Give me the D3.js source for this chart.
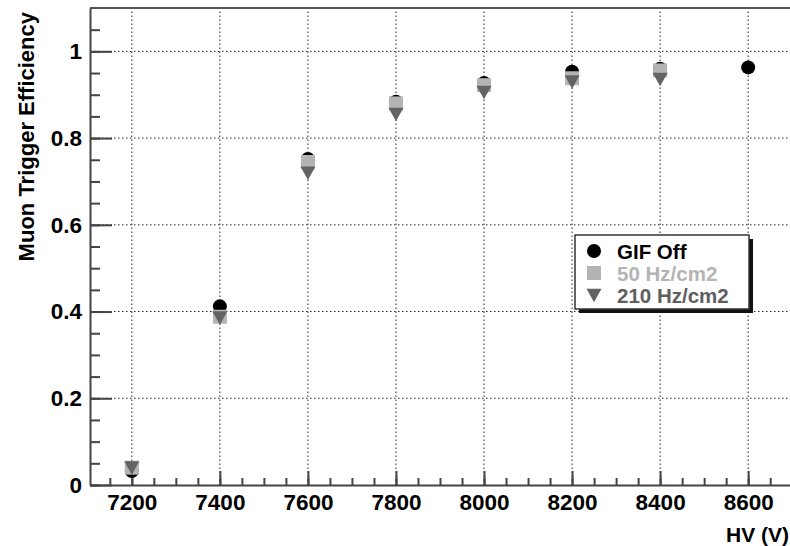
<!DOCTYPE html>
<html>
<head>
<meta charset="utf-8">
<script src="https://cdn.jsdelivr.net/npm/d3@7"></script>
<style>
  body { margin: 0; background: #fff; }
  svg text { font-family: "Liberation Sans", Arial, sans-serif; font-weight: bold; }
</style>
</head>
<body>
<div id="chart"></div>
<script>
// data
const hv = [7200, 7400, 7600, 7800, 8000, 8200, 8400, 8600];
const gifOff = [0.032, 0.412, 0.752, 0.884, 0.927, 0.953, 0.960, 0.963];
const hz50 = [0.040, 0.388, 0.745, 0.880, 0.922, 0.938, 0.956];
const hz210 = [0.040, 0.386, 0.720, 0.855, 0.906, 0.930, 0.936];
const seriesNames = ["GIF Off", "50 Hz/cm2", "210 Hz/cm2"];
const xTicks = [7200, 7400, 7600, 7800, 8000, 8200, 8400, 8600];
const yTicks = [0, 0.2, 0.4, 0.6, 0.8, 1];

const W = 790, H = 546;
const svg = d3.select("#chart").append("svg")
    .attr("width", W)
    .attr("height", H);

const x = d3.scaleLinear().domain([7105, 8695]).range([90, 790]);
const y = d3.scaleLinear().domain([0, 1.1]).range([485, 8]);

// grid (dotted)
svg.append("g").selectAll("line")
    .data(xTicks)
    .join("line")
    .attr("x1", d => x(d)).attr("x2", d => x(d))
    .attr("y1", y(0)).attr("y2", y(1.1))
    .attr("stroke", "#222")
    .attr("stroke-width", 1)
    .attr("stroke-dasharray", "1.5,2.5");

svg.append("g").selectAll("line")
    .data(yTicks.filter(d => d > 0))
    .join("line")
    .attr("x1", x(7105)).attr("x2", W)
    .attr("y1", d => y(d)).attr("y2", d => y(d))
    .attr("stroke", "#222")
    .attr("stroke-width", 1)
    .attr("stroke-dasharray", "1.5,2.5");

// frame top
svg.append("line")
    .attr("x1", 90).attr("x2", W)
    .attr("y1", y(1.1)).attr("y2", y(1.1))
    .attr("stroke", "#555").attr("stroke-width", 2);

// minor ticks
svg.append("g")
    .attr("transform", `translate(90,0)`)
    .call(d3.axisLeft(y).tickValues(d3.range(0, 1.1, 0.05)).tickSize(-10).tickSizeOuter(0).tickFormat(""))
    .call(g => g.select(".domain").remove())
    .selectAll("line").attr("stroke", "#444").attr("stroke-width", 2);

svg.append("g")
    .attr("transform", `translate(0,485)`)
    .call(d3.axisBottom(x).tickValues(d3.range(7150, 8700, 50)).tickSize(-7).tickSizeOuter(0).tickFormat(""))
    .call(g => g.select(".domain").remove())
    .selectAll("line").attr("stroke", "#444").attr("stroke-width", 2);

// major axes
const yAxis = svg.append("g")
    .attr("transform", `translate(90,0)`)
    .call(d3.axisLeft(y).tickValues(yTicks).tickSize(-22).tickSizeOuter(0).tickPadding(8)
        .tickFormat(d => d === 0 || d === 1 ? d3.format("d")(d) : d3.format(".1f")(d)));
yAxis.select(".domain").attr("stroke", "#444").attr("stroke-width", 2);
yAxis.selectAll("line").attr("stroke", "#444").attr("stroke-width", 2);
yAxis.selectAll("text").style("font-size", "22.5px").attr("fill", "#000");

const xAxis = svg.append("g")
    .attr("transform", `translate(0,485)`)
    .call(d3.axisBottom(x).tickValues(xTicks).tickSize(-14).tickSizeOuter(0).tickPadding(9).tickFormat(d3.format("d")));
xAxis.select(".domain").attr("stroke", "#444").attr("stroke-width", 2);
xAxis.selectAll("line").attr("stroke", "#444").attr("stroke-width", 2);
xAxis.selectAll("text").style("font-size", "22.5px").attr("fill", "#000");

// axis titles
svg.append("text")
    .attr("text-anchor", "end")
    .attr("x", 789)
    .attr("y", 542)
    .style("font-size", "21px")
    .text("HV (V)");

svg.append("text")
    .attr("text-anchor", "end")
    .attr("transform", `translate(34,12) rotate(-90)`)
    .style("font-size", "22px")
    .text("Muon Trigger Efficiency");

// markers: circles first, then squares, then triangles
const triangle = s => `M${-s},${-s * 0.85}L${s},${-s * 0.85}L0,${s * 0.95}Z`;

svg.append("g").selectAll("circle")
    .data(gifOff)
    .join("circle")
    .attr("cx", (d, i) => x(hv[i]))
    .attr("cy", d => y(d))
    .attr("r", 7)
    .attr("fill", "#000");

svg.append("g").selectAll("rect")
    .data(hz50)
    .join("rect")
    .attr("x", (d, i) => x(hv[i]) - 7)
    .attr("y", d => y(d) - 7)
    .attr("width", 14)
    .attr("height", 14)
    .attr("fill", "#b4b4b4");

svg.append("g").selectAll("path")
    .data(hz210)
    .join("path")
    .attr("transform", (d, i) => `translate(${x(hv[i])},${y(d)})`)
    .attr("d", triangle(7.5))
    .attr("fill", "#636363");

// legend
const lg = svg.append("g").attr("transform", "translate(575,235)");
lg.append("rect")
    .attr("x", 4).attr("y", 4)
    .attr("width", 174).attr("height", 74)
    .attr("fill", "#111");
lg.append("rect")
    .attr("width", 174).attr("height", 74)
    .attr("fill", "#fff")
    .attr("stroke", "#333")
    .attr("stroke-width", 1.5);

const legendColors = ["#000", "#b4b4b4", "#5e5e5e"];
const rows = lg.selectAll(".row")
    .data(seriesNames)
    .join("g")
    .attr("class", "row")
    .attr("transform", (d, i) => `translate(0,${16 + i * 22})`);

rows.each(function (d, i) {
    const g = d3.select(this);
    if (i === 0) g.append("circle").attr("cx", 19).attr("cy", 0).attr("r", 7).attr("fill", "#000");
    else if (i === 1) g.append("rect").attr("x", 12).attr("y", -7).attr("width", 14).attr("height", 14).attr("fill", "#b4b4b4");
    else g.append("path").attr("transform", "translate(19,0)").attr("d", triangle(7.5)).attr("fill", "#636363");
});

rows.append("text")
    .attr("x", 42)
    .attr("y", 7.5)
    .style("font-size", "20.5px")
    .attr("fill", (d, i) => legendColors[i])
    .text(d => d);
</script>
</body>
</html>
